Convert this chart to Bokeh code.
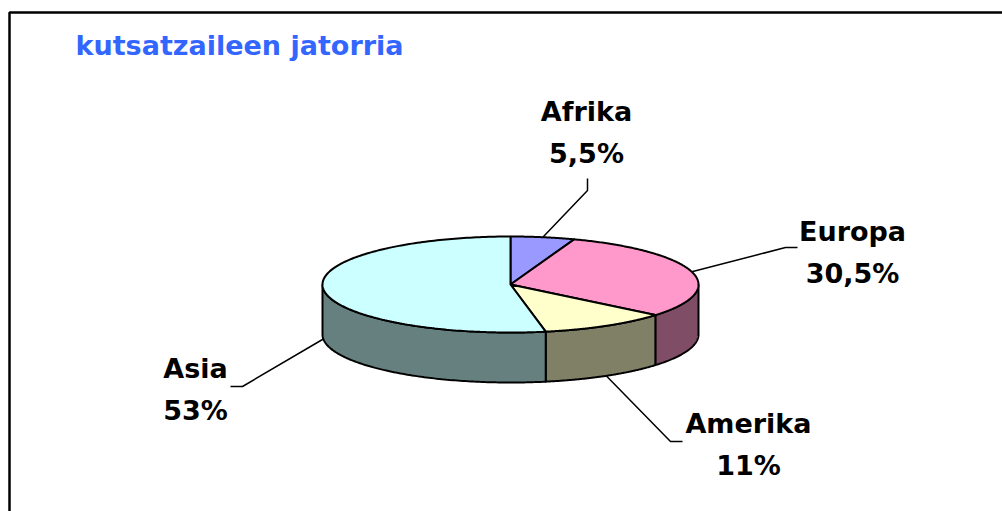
import numpy as np
from bokeh.plotting import figure
from bokeh.models import Range1d
from bokeh.core.properties import value
from bokeh.embed import file_html
from bokeh.resources import INLINE

# ---- data ----
categories = ["Afrika", "Europa", "Amerika", "Asia"]
shares = [5.5, 30.5, 11.0, 53.0]
pct_labels = ["5,5%", "30,5%", "11%", "53%"]
top_colors = ["#9999FF", "#FF99CC", "#FFFFCC", "#CCFFFF"]
side_colors = ["#4D4D80", "#804D66", "#808066", "#668080"]
title_text = "kutsatzaileen jatorria"

# ---- layout (pixel space of the figure, y downwards) ----
W, H = 1002, 511
OX, OY = 0, 0
cx, cy = 510 - OX, 284 - OY
rx, ry = 188, 48
depth = 50

label_pos = {
    "Afrika": (586, 111),
    "Europa": (852, 231),
    "Amerika": (748, 423),
    "Asia": (195, 368),
}
leader_pts = {
    "Afrika": [(587, 190), (587, 178)],
    "Europa": [(785, 247), (797, 247)],
    "Amerika": [(670, 441), (682, 441)],
    "Asia": [(242, 386), (230, 386)],
}
leader_on_side = {"Afrika": False, "Europa": False, "Amerika": True, "Asia": True}

p = figure(width=W, height=H, output_backend="svg", toolbar_location=None,
           x_range=Range1d(0, W), y_range=Range1d(H, 0), min_border=0)
p.axis.visible = False
p.grid.visible = False
p.outline_line_color = None
p.background_fill_color = "white"
p.border_fill_color = "white"

# frame (left + top)
p.line(x=[9 - OX, 9 - OX, W + 10], y=[H + 10, 12 - OY, 12 - OY],
       line_color="black", line_width=2.5)


def ell(theta_deg, dy=0.0):
    t = np.radians(theta_deg)
    return cx + rx * np.sin(t), cy - ry * np.cos(t) + dy


total = float(sum(shares))
bounds = np.concatenate([[0], np.cumsum(shares)]) / total * 360.0

# sides (front half: theta in [90, 270])
for i in range(len(shares)):
    a0, a1 = max(bounds[i], 90.0), min(bounds[i + 1], 270.0)
    if a1 <= a0:
        continue
    th = np.linspace(a0, a1, 120)
    tx, ty = ell(th)
    bx, by = ell(th[::-1], depth)
    p.patch(x=np.concatenate([tx, bx]), y=np.concatenate([ty, by]),
            fill_color=side_colors[i], line_color="black", line_width=2)

# tops
for i in range(len(shares)):
    th = np.linspace(bounds[i], bounds[i + 1], 200)
    tx, ty = ell(th)
    p.patch(x=np.concatenate([[cx], tx, [cx]]), y=np.concatenate([[cy], ty, [cy]]),
            fill_color=top_colors[i], line_color="black", line_width=2)

# leaders and labels
for i, cat in enumerate(categories):
    mid = (bounds[i] + bounds[i + 1]) / 2
    sx, sy = ell(mid, depth if leader_on_side[cat] else 0.0)
    xs = [sx] + [q[0] - OX for q in leader_pts[cat]]
    ys = [sy] + [q[1] - OY for q in leader_pts[cat]]
    p.line(x=xs, y=ys, line_color="black", line_width=1.5)
    lx, ly = label_pos[cat]
    p.text(x=[lx - OX, lx - OX], y=[ly - OY, ly - OY + 42], text=[cat, pct_labels[i]],
           text_font=value("DejaVu Sans"), text_font_style="bold",
           text_font_size="27px", text_align="center", text_baseline="middle",
           text_color="black")

p.text(x=[75 - OX], y=[45 - OY], text=[title_text], text_font=value("DejaVu Sans"),
       text_font_style="bold", text_font_size="27px", text_align="left",
       text_baseline="middle", text_color="#3366FF")

open("out.html", "w").write(file_html(p, INLINE))
